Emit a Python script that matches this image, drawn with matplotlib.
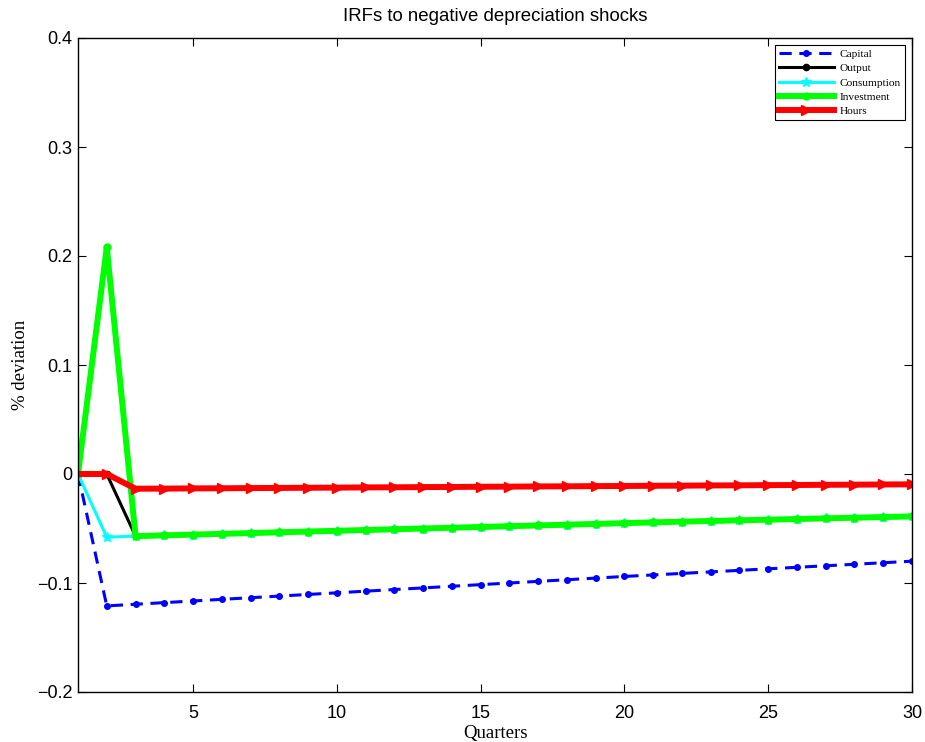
import matplotlib
matplotlib.use("Agg")
import matplotlib.pyplot as plt
import numpy as np

quarters = list(range(1, 31))

capital = [0.0, -0.121, -0.1195, -0.118, -0.1165, -0.115, -0.1135, -0.112, -0.1105,
           -0.109, -0.1075, -0.106, -0.1045, -0.103, -0.1015, -0.100, -0.0985, -0.097,
           -0.0955, -0.094, -0.0926, -0.0912, -0.0898, -0.0884, -0.087, -0.0856,
           -0.0842, -0.0828, -0.0814, -0.080]

common_tail = [-0.0570, -0.0563, -0.0556, -0.0549, -0.0542, -0.0535, -0.0528, -0.0521,
               -0.0514, -0.0507, -0.0500, -0.0493, -0.0486, -0.0479, -0.0472, -0.0465,
               -0.0458, -0.0451, -0.0444, -0.0437, -0.0431, -0.0425, -0.0419, -0.0413,
               -0.0407, -0.0401, -0.0395, -0.0389]

output = [0.0, 0.0] + common_tail
consumption = [0.0, -0.058] + common_tail
investment = [0.0, 0.208] + common_tail

hours = [0.0, 0.0, -0.0135, -0.0134, -0.0132, -0.0131, -0.0129, -0.0128, -0.0126,
         -0.0125, -0.0123, -0.0122, -0.0120, -0.0119, -0.0117, -0.0116, -0.0114,
         -0.0113, -0.0111, -0.0110, -0.0108, -0.0107, -0.0105, -0.0104, -0.0102,
         -0.0101, -0.0099, -0.0098, -0.0096, -0.0095]

labels = ["Capital", "Output", "Consumption", "Investment", "Hours"]
yticks = [-0.2, -0.1, 0, 0.1, 0.2, 0.3, 0.4]
ytick_labels = ["\u22120.2", "\u22120.1", "0", "0.1", "0.2", "0.3", "0.4"]
xticks = [5, 10, 15, 20, 25, 30]

fig = plt.figure(figsize=(9.25, 7.42), dpi=100)
ax = fig.add_axes([78/925, 50/742, (912-78)/925, (692-38)/742])

ax.plot(quarters, capital, color="#0000ff", linestyle="--", dashes=(4, 2.5), lw=2.2,
        marker=".", markersize=8, label=labels[0])
ax.plot(quarters, output, color="black", lw=2.2, marker=".", markersize=9,
        label=labels[1])
ax.plot(quarters, consumption, color="#00ffff", lw=2.2, marker="*", markersize=7,
        label=labels[2])
ax.plot(quarters, investment, color="#00ff00", lw=4.3, marker="o", markersize=5,
        solid_joinstyle="miter", label=labels[3])
ax.plot(quarters, hours, color="#ff0000", lw=4.3, marker=">", markersize=7,
        solid_joinstyle="miter", label=labels[4])

ax.set_xlim(1, 30)
ax.set_ylim(-0.2, 0.4)
ax.set_xticks(xticks)
ax.set_xticklabels([str(t) for t in xticks], fontsize=13, family="Liberation Sans")
ax.set_yticks(yticks)
ax.set_yticklabels(ytick_labels, fontsize=13, family="Liberation Sans")
ax.tick_params(direction="in", top=True, right=True, length=6, width=0.8)
ax.tick_params(axis="x", pad=9.5)
ax.tick_params(axis="y", pad=4)
for s in ax.spines.values():
    s.set_linewidth(1.0)

ax.set_title("IRFs to negative depreciation shocks", fontsize=13.4,
             family="Liberation Sans", pad=12)
ax.set_xlabel("Quarters", fontsize=13.5, family="Liberation Serif", labelpad=2)
ax.set_ylabel("% deviation", fontsize=13.5, family="Liberation Serif", labelpad=6)

leg = ax.legend(loc="upper right", prop={"family": "Liberation Serif", "size": 8.2},
                handlelength=4.9, fancybox=False, edgecolor="black", framealpha=1,
                borderpad=0.35, labelspacing=0.36, handletextpad=0.45,
                borderaxespad=0.65)
leg.get_frame().set_linewidth(0.8)

fig.savefig("out.png", dpi=100)
